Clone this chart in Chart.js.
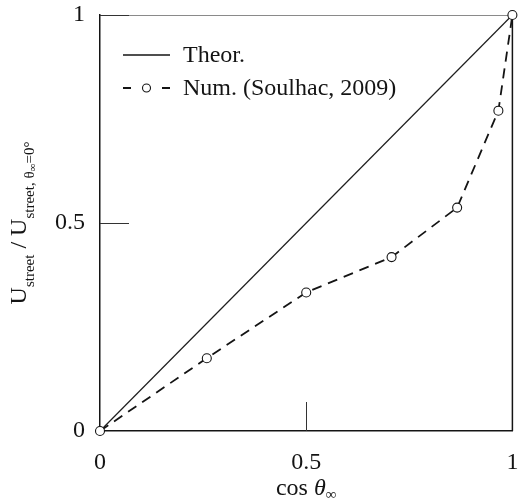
<!DOCTYPE html>
<html>
<head>
<meta charset="utf-8">
<script src="https://cdn.jsdelivr.net/npm/chart.js@4.4.1/dist/chart.umd.min.js"></script>
<style>
  html, body { margin: 0; padding: 0; background: #fff; }
  #wrap { width: 518px; height: 500px; position: relative; }
</style>
</head>
<body>
<div id="wrap"><canvas id="chart"></canvas></div>
<script>
// valeurs
const cosTheta = [0, 0.259, 0.5, 0.707, 0.866, 0.966, 1];
const uNum = [0, 0.175, 0.333, 0.418, 0.537, 0.770, 1];
const theorX = [0, 1];
const theorY = [0, 1];
const xTicks = [0, 0.5, 1];
const yTicks = [0, 0.5, 1];
const legendLabels = ['Theor.', 'Num. (Soulhac, 2009)'];

const FONT = '"Liberation Serif", "Times New Roman", serif';
const INK = '#141414';

// ticks internes, cadre, légende et titres d'axes
const decorPlugin = {
    id: 'decor',
    beforeDatasetsDraw(chart) {
        const { ctx, chartArea: a, scales } = chart;
        ctx.save();
        // bord supérieur gris, bord droit foncé
        ctx.strokeStyle = '#8a8a8a';
        ctx.lineWidth = 1;
        ctx.beginPath();
        ctx.moveTo(a.left, a.top + 0.5);
        ctx.lineTo(a.right, a.top + 0.5);
        ctx.stroke();
        ctx.strokeStyle = INK;
        ctx.lineWidth = 1.5;
        ctx.beginPath();
        ctx.moveTo(a.right, a.top);
        ctx.lineTo(a.right, a.bottom);
        ctx.stroke();
        // ticks vers l'intérieur
        ctx.lineWidth = 1;
        ctx.strokeStyle = '#333';
        const len = 29;
        xTicks.forEach(v => {
            if (v === 0 || v === 1) return;
            const x = Math.round(scales.x.getPixelForValue(v)) + 0.5;
            ctx.beginPath();
            ctx.moveTo(x, a.bottom);
            ctx.lineTo(x, a.bottom - len);
            ctx.stroke();
        });
        yTicks.forEach(v => {
            if (v === 0) return;
            const y = Math.round(scales.y.getPixelForValue(v)) + 0.5;
            ctx.beginPath();
            ctx.moveTo(a.left, y);
            ctx.lineTo(a.left + len, y);
            ctx.stroke();
        });
        ctx.restore();
    },
    afterDraw(chart) {
        const { ctx, chartArea: a } = chart;
        ctx.save();
        ctx.fillStyle = INK;
        ctx.strokeStyle = INK;
        ctx.textBaseline = 'middle';
        ctx.font = '24px ' + FONT;

        // légende
        const lx = a.left + 23;
        const r1 = a.top + 40;
        const r2 = a.top + 73;
        ctx.lineWidth = 1.4;
        ctx.beginPath();
        ctx.moveTo(lx, r1);
        ctx.lineTo(lx + 47, r1);
        ctx.stroke();
        ctx.fillText(legendLabels[0], lx + 60, r1 + 1);

        ctx.lineWidth = 1.8;
        ctx.beginPath();
        ctx.moveTo(lx, r2);
        ctx.lineTo(lx + 8, r2);
        ctx.moveTo(lx + 39, r2);
        ctx.lineTo(lx + 47, r2);
        ctx.stroke();
        ctx.lineWidth = 1.1;
        ctx.beginPath();
        ctx.arc(lx + 23.5, r2, 4, 0, Math.PI * 2);
        ctx.fillStyle = '#fff';
        ctx.fill();
        ctx.stroke();
        ctx.fillStyle = INK;
        ctx.fillText(legendLabels[1], lx + 60, r2 + 1);

        // titre de l'axe x : cos θ∞
        ctx.textBaseline = 'alphabetic';
        const xParts = [
            { t: 'cos ', f: '24px ' + FONT, dy: 0 },
            { t: 'θ', f: 'italic 24px ' + FONT, dy: 0 },
            { t: '∞', f: '15px ' + FONT, dy: 4 }
        ];
        drawParts(ctx, xParts, (a.left + a.right) / 2, 495);

        // titre de l'axe y (vertical)
        ctx.translate(26, (a.top + a.bottom) / 2);
        ctx.rotate(-Math.PI / 2);
        const yParts = [
            { t: 'U', f: '24px ' + FONT, dy: 0 },
            { t: 'street', f: '15px ' + FONT, dy: 8 },
            { t: ' / ', f: '24px ' + FONT, dy: 0 },
            { t: 'U', f: '24px ' + FONT, dy: 0 },
            { t: 'street, θ', f: '15px ' + FONT, dy: 8 },
            { t: '∞', f: '11px ' + FONT, dy: 10 },
            { t: '=0°', f: '15px ' + FONT, dy: 8 }
        ];
        drawParts(ctx, yParts, 0, 0);
        ctx.restore();
    }
};

function drawParts(ctx, parts, cx, baseY) {
    let total = 0;
    parts.forEach(p => { ctx.font = p.f; p.w = ctx.measureText(p.t).width; total += p.w; });
    let x = cx - total / 2;
    ctx.textAlign = 'left';
    parts.forEach(p => {
        ctx.font = p.f;
        ctx.fillText(p.t, x, baseY + p.dy);
        x += p.w;
    });
}

function fmt(v) {
    return v === 0.5 ? '0.5' : String(v);
}

const ctx = document.getElementById('chart').getContext('2d');
new Chart(ctx, {
    type: 'scatter',
    data: {
        datasets: [
            {
                label: legendLabels[1],
                data: cosTheta.map((x, i) => ({ x: x, y: uNum[i] })),
                showLine: true,
                borderColor: INK,
                borderWidth: 1.8,
                borderDash: [10, 7],
                pointRadius: 4.5,
                pointHoverRadius: 4.5,
                pointBackgroundColor: '#fff',
                pointBorderColor: INK,
                pointBorderWidth: 1.1,
                clip: false,
                order: 1
            },
            {
                label: legendLabels[0],
                data: theorX.map((x, i) => ({ x: x, y: theorY[i] })),
                showLine: true,
                borderColor: '#1e1e1e',
                borderWidth: 1.2,
                pointRadius: 0,
                clip: false,
                order: 2
            }
        ]
    },
    options: {
        responsive: true,
        maintainAspectRatio: false,
        animation: false,
        events: [],
        layout: { padding: { left: 0, right: 3, top: 15, bottom: 0 } },
        plugins: {
            legend: { display: false },
            tooltip: { enabled: false }
        },
        scales: {
            x: {
                type: 'linear',
                min: 0,
                max: 1,
                afterBuildTicks: s => { s.ticks = xTicks.map(v => ({ value: v })); },
                afterFit: s => { s.height = 69; s.paddingLeft = 0; s.paddingRight = 0; },
                grid: { display: false, drawTicks: false },
                border: { display: true, color: INK, width: 1.5 },
                ticks: {
                    padding: 17,
                    color: INK,
                    maxRotation: 0,
                    autoSkip: false,
                    font: { family: FONT, size: 24 },
                    callback: v => fmt(v)
                }
            },
            y: {
                type: 'linear',
                min: 0,
                max: 1,
                afterBuildTicks: s => { s.ticks = yTicks.map(v => ({ value: v })); },
                afterFit: s => { s.width = 100; s.paddingTop = 0; s.paddingBottom = 0; },
                grid: { display: false, drawTicks: false },
                border: { display: true, color: INK, width: 1.5 },
                ticks: {
                    padding: 15,
                    color: INK,
                    autoSkip: false,
                    font: { family: FONT, size: 24 },
                    callback: v => fmt(v)
                }
            }
        }
    },
    plugins: [decorPlugin]
});
</script>
</body>
</html>
